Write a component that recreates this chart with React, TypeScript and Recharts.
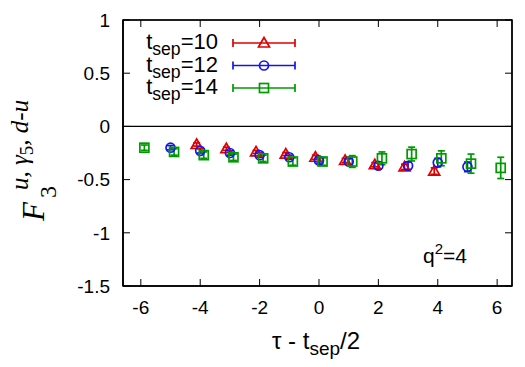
import React from 'react';
import { ScatterChart, Scatter, XAxis, YAxis, ErrorBar, ReferenceLine, CartesianGrid } from 'recharts';

// Axis ticks
const xTicks = [-6, -4, -2, 0, 2, 4, 6];
const yTicks = [-1.5, -1, -0.5, 0, 0.5, 1];
const xDomain: [number, number] = [-6.6, 6.5];
const yDomain: [number, number] = [-1.5, 1];

// t_sep = 10
const sep10X = [-4, -3, -2, -1, 0, 1, 2, 3, 4];
const sep10Y = [-0.17, -0.21, -0.24, -0.26, -0.29, -0.32, -0.36, -0.38, -0.42];
const sep10Err = [0.015, 0.015, 0.015, 0.015, 0.02, 0.02, 0.02, 0.025, 0.03];

// t_sep = 12
const sep12X = [-5, -4, -3, -2, -1, 0, 1, 2, 3, 4, 5];
const sep12Y = [-0.2, -0.23, -0.25, -0.27, -0.29, -0.32, -0.33, -0.37, -0.37, -0.34, -0.38];
const sep12Err = [0.02, 0.02, 0.02, 0.02, 0.02, 0.025, 0.025, 0.03, 0.035, 0.04, 0.045];

// t_sep = 14
const sep14X = [-6, -5, -4, -3, -2, -1, 0, 1, 2, 3, 4, 5, 6];
const sep14Y = [-0.2, -0.24, -0.27, -0.29, -0.3, -0.33, -0.33, -0.33, -0.3, -0.26, -0.3, -0.35, -0.39];
const sep14Err = [0.025, 0.03, 0.03, 0.03, 0.03, 0.035, 0.035, 0.055, 0.06, 0.065, 0.07, 0.09, 0.1];

const RED = '#e00000';
const BLUE = '#1414f0';
const GREEN = '#009a00';

// small horizontal dodge so overlapping series stay readable
const DODGE = { s10: -0.12, s12: 0, s14: 0.12 };

const build = (xs: number[], ys: number[], es: number[], dx: number) =>
  xs.map((x, i) => ({ x: x + dx, y: ys[i], err: es[i] }));

const data10 = build(sep10X, sep10Y, sep10Err, DODGE.s10);
const data12 = build(sep12X, sep12Y, sep12Err, DODGE.s12);
const data14 = build(sep14X, sep14Y, sep14Err, DODGE.s14);

// chart geometry
const W = 525;
const H = 367;
const MARGIN = { top: 20, right: 13, bottom: 41, left: 63 };
const X_AXIS_H = 40;
const Y_AXIS_W = 60;
const PLOT = {
  left: MARGIN.left + Y_AXIS_W,
  top: MARGIN.top,
  right: W - MARGIN.right,
  bottom: H - MARGIN.bottom - X_AXIS_H,
};
const TICK_LEN = 7;

const SW = 1.7;

const triPoints = (cx: number, cy: number) =>
  `${cx},${cy - 5.5} ${cx - 5.5},${cy + 4} ${cx + 5.5},${cy + 4}`;

const TriangleMark = (p: any) =>
  p.cx == null ? null : (
    <polygon points={triPoints(p.cx, p.cy)} fill="none" stroke={RED} strokeWidth={SW} />
  );
const CircleMark = (p: any) =>
  p.cx == null ? null : <circle cx={p.cx} cy={p.cy} r={4.5} fill="none" stroke={BLUE} strokeWidth={SW} />;
const SquareMark = (p: any) =>
  p.cx == null ? null : (
    <rect x={p.cx - 4.5} y={p.cy - 4.5} width={9} height={9} fill="none" stroke={GREEN} strokeWidth={SW} />
  );

const SANS = 'Liberation Sans, Arial, sans-serif';
const SERIF = 'Liberation Serif, Times New Roman, serif';
const frameLine = { stroke: '#000', strokeWidth: 1.2 };

// bottom tick label plus the mirrored tick on the top border
const XTick = (p: any) => (
  <g>
    <text x={p.x} y={p.y} dy="0.71em" textAnchor="middle" fontFamily={SANS} fontSize={19} fill="#000">
      {p.payload.value}
    </text>
    <line x1={p.x} x2={p.x} y1={PLOT.top} y2={PLOT.top + TICK_LEN} stroke="#000" strokeWidth={1} />
  </g>
);

// left tick label plus the mirrored tick on the right border
const YTick = (p: any) => (
  <g>
    <text x={p.x} y={p.y} dy="0.355em" textAnchor="end" fontFamily={SANS} fontSize={19} fill="#000">
      {p.payload.value}
    </text>
    <line x1={PLOT.right - TICK_LEN} x2={PLOT.right} y1={p.y} y2={p.y} stroke="#000" strokeWidth={1} />
  </g>
);

// grid lines only on the plot edges, i.e. the frame
const edgeRows = ({ offset }: any) => [offset.top, offset.top + offset.height];
const edgeCols = ({ offset }: any) => [offset.left, offset.left + offset.width];

const legendRows = [
  { label: '10', color: RED, kind: 'tri' },
  { label: '12', color: BLUE, kind: 'circ' },
  { label: '14', color: GREEN, kind: 'sq' },
];

const LegendSample = ({ y, color, kind }: { y: number; color: string; kind: string }) => {
  const x1 = 233;
  const x2 = 295;
  const cx = 264;
  return (
    <g stroke={color} strokeWidth={SW} fill="none">
      <line x1={x1} y1={y} x2={x2} y2={y} />
      <line x1={x1} y1={y - 4} x2={x1} y2={y + 4} />
      <line x1={x2} y1={y - 4} x2={x2} y2={y + 4} />
      {kind === 'tri' && <polygon points={triPoints(cx, y)} />}
      {kind === 'circ' && <circle cx={cx} cy={y} r={4.5} />}
      {kind === 'sq' && <rect x={cx - 4.5} y={y - 4.5} width={9} height={9} />}
    </g>
  );
};

export default function App() {
  return (
    <div style={{ position: 'absolute', left: 0, top: 0, width: W, height: H, background: '#fff' }}>
      <ScatterChart width={W} height={H} margin={MARGIN}>
        <CartesianGrid
          stroke="#000"
          strokeWidth={1.2}
          strokeDasharray="none"
          horizontalCoordinatesGenerator={edgeRows}
          verticalCoordinatesGenerator={edgeCols}
        />
        <XAxis
          type="number"
          dataKey="x"
          domain={xDomain}
          ticks={xTicks}
          interval={0}
          allowDataOverflow
          height={X_AXIS_H}
          tickSize={-TICK_LEN}
          tickMargin={22}
          tick={XTick}
          axisLine={frameLine}
          tickLine={{ stroke: '#000' }}
        />
        <YAxis
          type="number"
          dataKey="y"
          domain={yDomain}
          ticks={yTicks}
          interval={0}
          allowDataOverflow
          width={Y_AXIS_W}
          tickSize={-TICK_LEN}
          tickMargin={20}
          tick={YTick}
          axisLine={frameLine}
          tickLine={{ stroke: '#000' }}
        />
        <ReferenceLine y={0} stroke="#000" strokeWidth={1.2} />
        <Scatter data={data10} shape={TriangleMark} isAnimationActive={false}>
          <ErrorBar dataKey="err" direction="y" width={3.5} stroke={RED} strokeWidth={SW} isAnimationActive={false} />
        </Scatter>
        <Scatter data={data12} shape={CircleMark} isAnimationActive={false}>
          <ErrorBar dataKey="err" direction="y" width={3.5} stroke={BLUE} strokeWidth={SW} isAnimationActive={false} />
        </Scatter>
        <Scatter data={data14} shape={SquareMark} isAnimationActive={false}>
          <ErrorBar dataKey="err" direction="y" width={3.5} stroke={GREEN} strokeWidth={SW} isAnimationActive={false} />
        </Scatter>
      </ScatterChart>

      <svg width={W} height={H} style={{ position: 'absolute', left: 0, top: 0, pointerEvents: 'none' }}>
        {/* plot frame */}
        <rect
          x={PLOT.left}
          y={PLOT.top}
          width={PLOT.right - PLOT.left}
          height={PLOT.bottom - PLOT.top}
          fill="none"
          stroke="#000"
          strokeWidth={1.5}
        />

        {/* legend */}
        {legendRows.map((r, i) => {
          const base = 49 + i * 22.5;
          return (
            <g key={r.label}>
              <text x={218} y={base} textAnchor="end" fontFamily={SANS} fontSize={22} fill="#000">
                t
                <tspan fontSize={17.6} dy={6}>sep</tspan>
                <tspan dy={-6}>={r.label}</tspan>
              </text>
              <LegendSample y={base - 6} color={r.color} kind={r.kind} />
            </g>
          );
        })}

        {/* momentum transfer */}
        <text x={423} y={263} fontFamily={SANS} fontSize={21} fill="#000">
          q<tspan fontSize={15} dy={-9}>2</tspan>
          <tspan dy={9}>=4</tspan>
        </text>

        {/* x-axis title */}
        <text x={316} y={349} textAnchor="middle" fontFamily={SANS} fontSize={24} fill="#000">
          τ - t<tspan fontSize={19} dy={6}>sep</tspan>
          <tspan dy={-6}>/2</tspan>
        </text>

        {/* y-axis title */}
        <g transform="translate(44,221) rotate(-90)">
          <text x={0} y={0} fontFamily={SERIF} fontStyle="italic" fontSize={31} fill="#000">
            F
          </text>
          <text x={23} y={12} fontFamily={SERIF} fontSize={24} fill="#000">
            3
          </text>
          <text x={31} y={-16} fontFamily={SERIF} fontStyle="italic" fontSize={25} fill="#000">
            u, γ<tspan fontStyle="normal" fontSize={19} dy={5}>5</tspan>
            <tspan dy={-5}>, d-u</tspan>
          </text>
        </g>
      </svg>
    </div>
  );
}
